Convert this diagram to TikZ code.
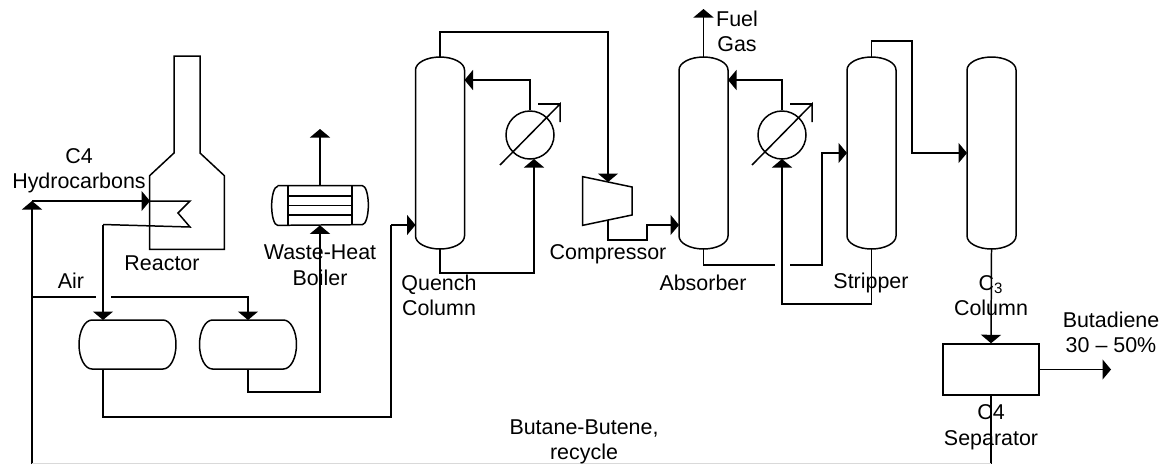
\documentclass[tikz,border=0pt]{standalone}
\usepackage{fontspec}
\setmainfont{Liberation Sans}
\usetikzlibrary{arrows.meta}
\tikzset{
    pipe/.style={line width=0.85pt},
    flow/.style={pipe, -{Triangle[length=0.17cm,width=0.4cm]}},
    label/.style={inner sep=0pt, align=center, font=\fontsize{12.2}{14.5}\selectfont},
    frame/.style={inner sep=0pt, outer sep=0pt, minimum width=#1},
    frame/.default=0.98cm,
}
% tall column with dished ends
\newcommand{\tower}[2]{
    \node[frame, minimum height=3.84cm] (#1) at (#2, 153) {};
    \draw[pipe] ([yshift=-0.26cm]#1.north west) arc[start angle=180, end angle=0, x radius=0.49cm, y radius=0.26cm]
        -- ([yshift=0.26cm]#1.south east) arc[start angle=0, end angle=-180, x radius=0.49cm, y radius=0.26cm] -- cycle;
}
% horizontal drum
\newcommand{\drum}[2]{
    \node[frame=1.94cm, minimum height=0.98cm] (#1) at (#2, 344.5) {};
    \draw[pipe] ([xshift=0.26cm]#1.north west) -- ([xshift=-0.26cm]#1.north east)
        arc[start angle=90, end angle=-90, x radius=0.26cm, y radius=0.49cm]
        -- ([xshift=0.26cm]#1.south west) arc[start angle=270, end angle=90, x radius=0.26cm, y radius=0.49cm];
}
% exchanger circle with its slanted arrow
\newcommand{\cooler}[2]{
    \node[draw, pipe, circle, inner sep=0pt, minimum size=0.96cm] (#1) at (#2, 135) {};
    \draw[pipe] (#2-30, 165) -- (#2+30, 104) -- (#2+30, 122);
    \draw[pipe] (#2+8, 104) -- (#2+30, 104);
}

\begin{document}
\begin{tikzpicture}[x=0.02cm, y=-0.02cm]
    \useasboundingbox (0, 0) rectangle (1168, 464);
    % Reactor with its stack
    \node[inner sep=0pt, minimum width=1.48cm, minimum height=1.46cm] (reactor) at (187, 212.5) {};
    \draw[pipe] (reactor.north west) -- (174, 153) -- (174, 56) -- (200, 56) -- (200, 153)
        -- (reactor.north east) -- (reactor.south east) -- (reactor.south west) -- cycle;
    % Columns
    \tower{quench}{440}
    \tower{absorber}{703.5}
    \tower{stripper}{871.5}
    \tower{cthree}{991.5}
    % Drums, separator and boiler
    \drum{drumA}{127.5}
    \drum{drumB}{248}
    \node[draw, pipe, inner sep=0pt, minimum width=1.92cm, minimum height=1.02cm] (separator) at (991, 369.5) {};
    \node[inner sep=0pt, minimum width=1.92cm, minimum height=0.78cm] (boiler) at (320, 205.5) {};
    \draw[pipe] ([xshift=0.12cm]boiler.north west) -- ([xshift=-0.12cm]boiler.north east)
        arc[start angle=90, end angle=-90, x radius=0.12cm, y radius=0.39cm]
        -- ([xshift=0.12cm]boiler.south west) arc[start angle=270, end angle=90, x radius=0.12cm, y radius=0.39cm];
    \draw[pipe] (288, 186) -- (288, 225) (352, 186) -- (352, 225);
    \foreach \y in {196, 205.5, 215} {
        \draw[pipe] (288, \y) -- (352, \y);
    }
    % Compressor
    \node[inner sep=0pt, minimum width=0.98cm, minimum height=0.96cm] (compressor) at (607.5, 201) {};
    \draw[pipe] (compressor.north west) -- (632, 187) -- (632, 215) -- (compressor.south west) -- cycle;
    \coordinate (compin) at (608, 182);
    \coordinate (compout) at (608, 220);
    % Exchangers
    \cooler{coolerA}{530}
    \cooler{coolerB}{782}
    % Feed and air
    \coordinate (feedfoot) at (32, 464);
    \coordinate (feedtop) at (32, 201);
    \coordinate (airtap) at (32, 297);
    \coordinate (airgapA) at (96, 297);
    \coordinate (airgapB) at (111, 297);
    \draw[flow] (feedfoot) -- (feedtop);
    \draw[flow] (feedtop) -- (150, 201);
    \draw[pipe] (150, 201) -- (190, 201) -- (178, 213) -- (190, 227) -- (103, 224.5);
    \draw[flow] (103, 224.5) -- (103, 320);
    \draw[pipe] (airtap) -- (airgapA);
    \draw[flow] (airgapB) -| (drumB.north);
    % Process lines
    \draw[pipe] (103, 369) |- (391, 417) -- (391, 225);
    \draw[flow] (391, 225) -- (quench.west |- 391, 225);
    \draw[flow] (drumB.south) |- (320, 392) -- (boiler.south);
    \draw[flow] (boiler.north) -- (320, 129);
    \draw[flow] (quench.north) |- (608, 32) -- (compin);
    \draw[flow] (coolerA.north) |- (quench.east |- 530, 80);
    \draw[flow] (quench.south) |- (534, 273) -- (534, 159);
    \draw[flow] (compout) |- (647, 240) |- (absorber.west |- 647, 225);
    \draw[flow] (absorber.north) -- (703.5, 9);
    \draw[flow] (coolerB.north) |- (absorber.east |- 779, 80);
    \draw[pipe] (absorber.south) |- (775, 265);
    \draw[flow] (790, 265) -| (822, 153) -- (stripper.west |- 822, 153);
    \draw[flow] (stripper.south) |- (782, 304) -- (782, 159);
    \draw[flow] (stripper.north) |- (912, 41) |- (cthree.west |- 912, 153);
    \draw[flow] (cthree.south) -- (separator.north);
    \draw[flow] (separator.east) -- (1111, 369.5);
    \draw[pipe] (separator.south) -- (991, 464);
    \draw[pipe, black!15] (32, 463.6) -- (991, 463.6);
    % Labels
    \node[label] (feedlabel) at (79, 170.5) {C4\\Hydrocarbons};
    \node[label] (reactorlabel) at (162, 263) {Reactor};
    \node[label] (airlabel) at (71, 281) {Air};
    \node[label] (boilerlabel) at (320, 265) {Waste-Heat\\Boiler};
    \node[label] (quenchlabel) at (439, 295.5) {Quench\\Column};
    \node[label] (compressorlabel) at (608, 254) {Compressor};
    \node[label] (absorberlabel) at (703, 283) {Absorber};
    \node[label] (fuellabel) at (737, 31.5) {Fuel\\Gas};
    \node[label] (stripperlabel) at (871, 283) {Stripper};
    \node[label] (cthreelabel) at (991, 295.5) {C\textsubscript{3}\\Column};
    \node[label] (separatorlabel) at (991, 427) {C4\\Separator};
    \node[label] (butadienelabel) at (1111, 332.5) {Butadiene\\30 -- 50\%};
    \node[label] (recyclelabel) at (584, 442) {Butane-Butene,\\recycle};
\end{tikzpicture}
\end{document}
